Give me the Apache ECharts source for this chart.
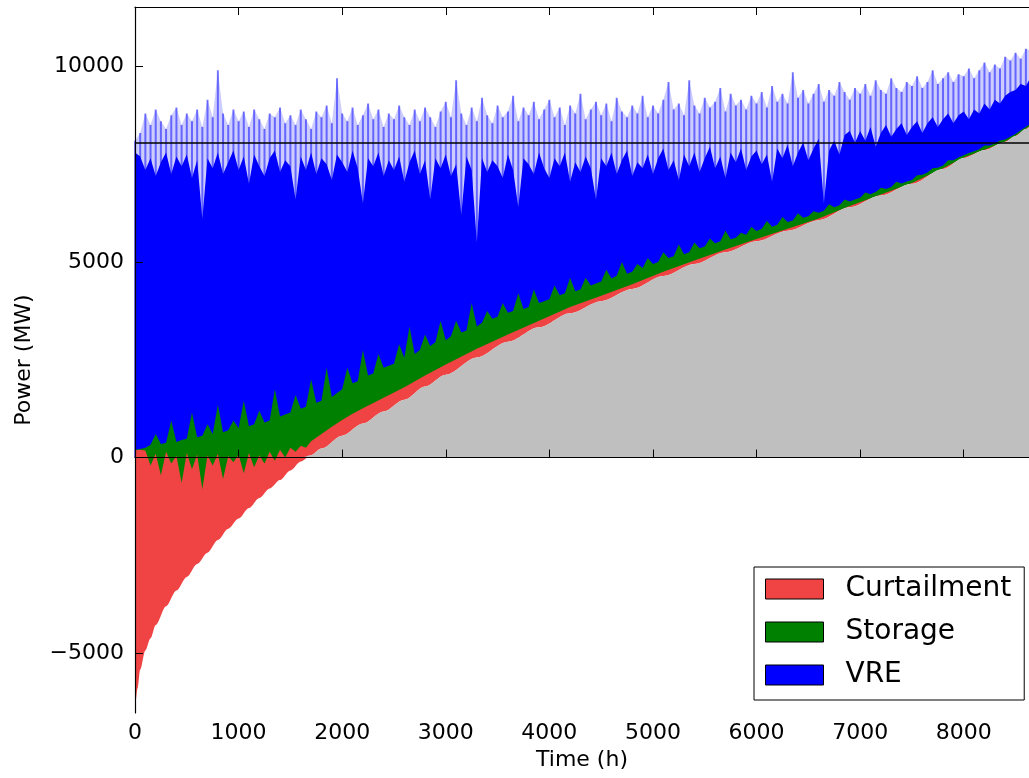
<!DOCTYPE html>
<html>
<head>
<meta charset="utf-8">
<script src="https://cdn.jsdelivr.net/npm/echarts@6/dist/echarts.min.js"></script>
<style>
  html, body { margin: 0; padding: 0; background: #fff; }
  #chart { width: 1029px; height: 778px; }
</style>
</head>
<body>
<div id="chart"></div>
<script>
// ---------------- data ----------------
// sampling grid for the noisy series (hours, every 50 h)
const hours = Array.from({ length: 174 }, (_, i) => i * 50);

// sorted residual load (lower boundary of the stack), MW
const residHours = [0, 25, 50, 100, 150, 200, 300, 400, 500, 600, 700, 800, 900, 1000, 1100, 1200, 1300, 1400, 1500, 1600, 1700, 1800, 2000, 2200, 2400, 2600, 2800, 3000, 3300, 3600, 3900, 4200, 4500, 4800, 5100, 5400, 5700, 6000, 6300, 6600, 6900, 7200, 7500, 7800, 8000, 8200, 8400, 8500, 8600, 8650];
const residual = [-6530, -5900, -5420, -4930, -4620, -4280, -3800, -3400, -3050, -2720, -2430, -2110, -1820, -1560, -1290, -1030, -790, -575, -330, -100, 60, 230, 560, 870, 1180, 1480, 1820, 2120, 2560, 2960, 3330, 3690, 4000, 4310, 4640, 4950, 5250, 5530, 5800, 6070, 6400, 6700, 7000, 7380, 7660, 7860, 8070, 8220, 8400, 8500];

// top of the curtailment layer, MW
const curtHours = [0, 50, 100, 150, 200, 250, 300, 350, 400, 450, 500, 550, 600, 650, 700, 750, 800, 850, 900, 950, 1000, 1050, 1100, 1150, 1200, 1250, 1300, 1350, 1400, 1450, 1500, 1550, 1600, 1650, 1700, 1800, 1900, 2000, 2100, 2200, 2400, 2600, 2800, 3000, 3300, 3600, 3900, 4200, 4500, 4800, 5100, 5400, 5700, 6000, 6300, 6600, 6900, 7200, 7500, 7800, 8000, 8200, 8400, 8500, 8600, 8650];
const curtTop = [190, 200, 180, -200, 100, -450, 150, -150, 50, -650, 120, -300, 80, -800, 60, -200, 100, -550, 40, -120, 80, -400, 120, -250, 60, -150, 150, -80, 200, 0, 250, 150, 300, 250, 420, 600, 790, 960, 1120, 1260, 1530, 1800, 2100, 2380, 2780, 3150, 3500, 3850, 4140, 4430, 4750, 5040, 5320, 5590, 5850, 6110, 6430, 6725, 7020, 7395, 7675, 7870, 8080, 8230, 8405, 8505];

// top of the storage layer, MW (on the 50 h grid)
const storageTop = [
  200, 220, 250, 330, 600, 350, 380, 950, 400, 450,
  480, 1150, 520, 560, 850, 600, 1350, 650, 700, 950,
  750, 1450, 800, 850, 1200, 900, 950, 1750, 1050, 1100,
  1150, 1600, 1250, 1300, 2000, 1400, 1450, 2300, 1550, 1650,
  1750, 2300, 1900, 1950, 2750, 2100, 2150, 2650, 2300, 2350,
  2400, 2900, 2550, 3350, 2650, 2750, 3150, 2850, 2950, 3500,
  3000, 3100, 3500, 3200, 3250, 3950, 3350, 3450, 3750, 3550,
  3600, 3950, 3700, 3750, 4200, 3800, 3850, 4300, 3950, 4000,
  4050, 4400, 4150, 4200, 4600, 4250, 4300, 4600, 4400, 4450,
  4500, 4800, 4580, 4650, 5000, 4700, 4750, 4950, 4850, 5100,
  4950, 5000, 5250, 5100, 5150, 5450, 5200, 5250, 5500, 5350,
  5400, 5600, 5480, 5530, 5800, 5580, 5620, 5750, 5700, 5900,
  5790, 5850, 6050, 5900, 5950, 6150, 6020, 6060, 6250, 6130,
  6170, 6300, 6260, 6310, 6480, 6400, 6450, 6600, 6550, 6600,
  6640, 6780, 6730, 6790, 6900, 6870, 6920, 7050, 7010, 7060,
  7100, 7220, 7230, 7290, 7400, 7410, 7470, 7600, 7600, 7670,
  7730, 7790, 7830, 7880, 7980, 7980, 8030, 8110, 8130, 8200,
  8270, 8370, 8450, 8550
];

// top of the VRE layer (dense part), MW
const vreTop = [
  7800, 7700, 7350, 7650, 7200, 7550, 7800, 7250, 7700, 7450,
  7750, 7150, 7600, 6100, 7650, 7400, 7800, 7250, 7550, 7850,
  7350, 7700, 7000, 7750, 7450, 7200, 7650, 7850, 7300, 7600,
  7450, 6600, 7700, 7350, 7800, 7250, 7650, 7500, 7100, 7750,
  7550, 7300, 7850, 7400, 6500, 7650, 7450, 7800, 7200, 7600,
  7350, 7700, 7050, 7550, 7850, 7250, 7600, 6600, 7650, 7400,
  7750, 7200, 7500, 6200, 7700, 7350, 5500, 7650, 7300, 7600,
  7450, 7150, 7750, 7350, 6400, 7650, 7500, 7250, 7800, 7400,
  7150, 7650, 7450, 7800, 7050, 7550, 7300, 7700, 7400, 6600,
  7650, 7450, 7800, 7250, 7600, 7850, 7200, 7550, 7400, 7750,
  7250, 7650, 7900, 7350, 7600, 7100, 7750, 7450, 7800, 7300,
  7650, 7950, 7400, 7700, 7150, 7800, 7550, 7900, 7350, 7700,
  7850, 7500, 7750, 7050, 7900, 7650, 8000, 7450, 7800, 8050,
  7600, 7900, 8150, 6500, 7850, 8100, 7750, 8250, 8350, 8050,
  8350, 8100, 8450, 7950, 8300, 8500, 8200, 8400, 8550, 8250,
  8450, 8600, 8300, 8550, 8700, 8450, 8650, 8800, 8550, 8750,
  8850, 8650, 8900, 8800, 9050, 8900, 9150, 9050, 9250, 9350,
  9400, 9550, 9500, 9750
];

// VRE hourly peaks (light fringe above the dense part), MW
const vrePeak = [
  8100, 8300, 8800, 8500, 8900, 8600, 8400, 8750, 8950, 8500,
  8800, 8600, 8900, 8450, 9150, 8700, 9900, 8800, 8500, 8900,
  8600, 8850, 8450, 8900, 8650, 8400, 8800, 8700, 8950, 8550,
  8750, 8500, 8900, 8650, 8400, 8850, 8700, 9000, 8550, 9700,
  8800, 8600, 8950, 8500, 8750, 9050, 8650, 8900, 8450, 8800,
  8650, 9000, 8700, 8500, 8900, 8600, 8950, 8700, 8450, 8850,
  9100, 8700, 9650, 8800, 8500, 8950, 8600, 9200, 8750, 8550,
  9000, 8700, 8850, 9250, 8600, 8950, 8750, 9100, 8650, 8900,
  9150, 8700, 8950, 8500, 9000, 8800, 9300, 8650, 8900, 9100,
  8750, 9050, 8600, 9200, 8850, 8700, 9000, 8800, 9250, 8700,
  9000, 8800, 9150, 9600, 8900, 9050, 8750, 9650, 9000, 8800,
  9200, 8950, 9100, 9450, 8850, 9300, 9000, 9150, 8900, 9250,
  9050, 9350, 8950, 9500, 9100, 9300, 9050, 9850, 9200, 9400,
  9050, 9300, 9550, 9100, 9400, 9250, 9600, 9350, 9150, 9450,
  9300, 9550, 9250, 9650, 9400, 9300, 9700, 9450, 9350, 9600,
  9500, 9750, 9450, 9600, 9900, 9550, 9700, 9850, 9600, 9800,
  9750, 9950, 9700, 9900, 10100, 9850, 10050, 9950, 10250, 10150,
  10350, 10200, 10450, 10400
];

const limitMW = 8040;                       // horizontal reference line
const xTicks = [0, 1000, 2000, 3000, 4000, 5000, 6000, 7000, 8000];
const yTicks = [-5000, 0, 5000, 10000];
const legendNames = ['Curtailment', 'Storage', 'VRE'];

// ---------------- chart ----------------
const FONT = 'DejaVu Sans';
const pairs = (xs, ys) => xs.map((x, i) => [x, ys[i]]);
const chart = echarts.init(document.getElementById('chart'), null, { renderer: 'canvas' });

const noLine = { width: 0, opacity: 0 };
const tickStyle = { show: true, inside: true, length: 8, lineStyle: { color: '#000', width: 1 } };
const plain = v => String(v).replace('-', '\u2212');

chart.setOption({
  animation: false,
  backgroundColor: '#fff',
  grid: { left: 135, right: 0, top: 7, bottom: 65 },
  xAxis: [
    {
      type: 'value', position: 'bottom', min: 0, max: 8630, z: 10,
      name: 'Time (h)', nameLocation: 'middle', nameGap: 34,
      nameTextStyle: { fontFamily: FONT, fontSize: 22, color: '#000' },
      axisLine: { show: true, lineStyle: { color: '#000', width: 1.2 } },
      axisTick: Object.assign({ customValues: xTicks }, tickStyle),
      axisLabel: { customValues: xTicks, fontFamily: FONT, fontSize: 22, color: '#000', margin: 9, formatter: plain },
      splitLine: { show: false }
    },
    {
      type: 'value', position: 'top', min: 0, max: 8630, z: 10,
      axisLine: { show: true, onZero: false, lineStyle: { color: '#000', width: 1.2 } },
      axisTick: Object.assign({ customValues: xTicks }, tickStyle),
      axisLabel: { show: false },
      splitLine: { show: false }
    }
  ],
  yAxis: {
    type: 'value', min: -6530, max: 11520, z: 10,
    name: 'Power (MW)', nameLocation: 'middle', nameGap: 100,
    nameTextStyle: { fontFamily: FONT, fontSize: 22, color: '#000' },
    axisLine: { show: true, onZero: false, lineStyle: { color: '#000', width: 1.2 } },
    axisTick: Object.assign({ customValues: yTicks }, tickStyle),
    axisLabel: { customValues: yTicks, fontFamily: FONT, fontSize: 22, color: '#000', margin: 11, formatter: plain },
    splitLine: { show: false }
  },
  legend: {
    data: legendNames,
    orient: 'vertical', left: 754, top: 567,
    itemWidth: 58, itemHeight: 20, itemGap: 15,
    icon: 'rect',
    itemStyle: { borderColor: '#000', borderWidth: 1 },
    textStyle: { fontFamily: FONT, fontSize: 28, color: '#000', padding: [0, 0, 0, 17] },
    padding: [8, 13, 11, 11],
    borderColor: '#000', borderWidth: 1, borderRadius: 0,
    backgroundColor: '#fff', z: 20
  },
  series: [
    {
      name: 'VRE peaks', type: 'line', showSymbol: false, symbol: 'none',
      data: pairs(hours, vrePeak),
      lineStyle: noLine,
      itemStyle: { color: '#0000ff' },
      areaStyle: { color: '#0000ff', opacity: 0.2, origin: 'start' }
    },
    {
      name: 'VRE spikes', type: 'bar', barWidth: 2, barGap: '-100%',
      data: pairs(hours, vrePeak),
      itemStyle: { color: 'rgba(0,0,255,0.5)' }
    },
    {
      name: 'VRE', type: 'line', showSymbol: false, symbol: 'none',
      data: pairs(hours, vreTop),
      lineStyle: noLine,
      itemStyle: { color: '#0000ff' },
      areaStyle: { color: '#0000ff', opacity: 1, origin: 'start' }
    },
    {
      name: 'Storage', type: 'line', showSymbol: false, symbol: 'none',
      data: pairs(hours, storageTop),
      lineStyle: noLine,
      itemStyle: { color: '#008000' },
      areaStyle: { color: '#008000', opacity: 1, origin: 'start' }
    },
    {
      name: 'Curtailment', type: 'line', showSymbol: false, symbol: 'none',
      data: pairs(curtHours, curtTop),
      lineStyle: noLine,
      itemStyle: { color: '#f04343' },
      areaStyle: { color: '#f04343', opacity: 1, origin: 'start' }
    },
    {
      name: 'mask', type: 'line', showSymbol: false, symbol: 'none', smooth: 0.3, smoothMonotone: 'x',
      data: pairs(residHours, residual),
      lineStyle: noLine,
      itemStyle: { color: '#ffffff' },
      areaStyle: { color: '#ffffff', opacity: 1, origin: 'start' }
    },
    {
      name: 'Residual load', type: 'line', showSymbol: false, symbol: 'none', smooth: 0.3, smoothMonotone: 'x',
      data: pairs(residHours, residual.map(v => Math.max(0, v))),
      lineStyle: noLine,
      itemStyle: { color: '#bfbfbf' },
      areaStyle: { color: '#bfbfbf', opacity: 1, origin: 0 },
      markLine: {
        silent: true, symbol: 'none', label: { show: false },
        lineStyle: { color: '#000', width: 1.5, type: 'solid' },
        data: [{ yAxis: limitMW }]
      }
    }
  ]
});
</script>
</body>
</html>
